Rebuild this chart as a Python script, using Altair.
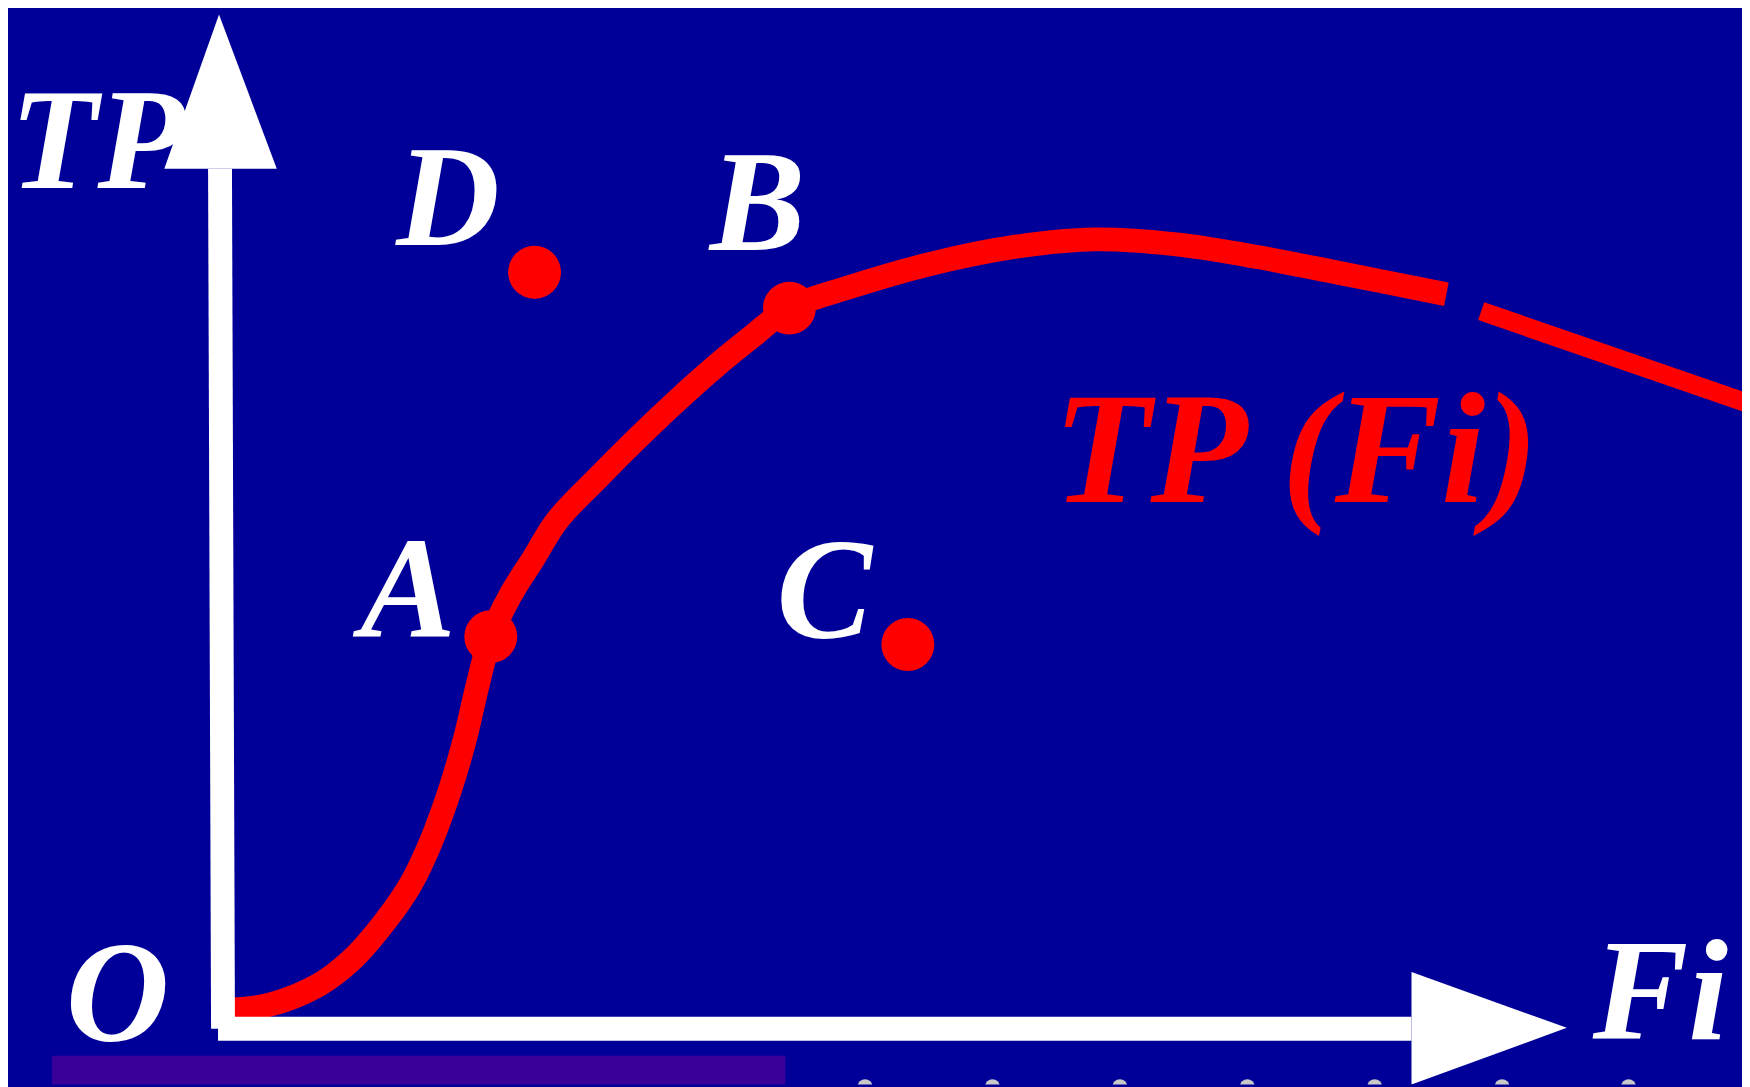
import altair as alt
import pandas as pd

# ---------------- data (arbitrary units: 1 unit = 100 px of the original slide) -------------
X_DOMAIN = [-2.16, 15.26]
Y_DOMAIN = [-0.56, 10.23]

# total product curve TP(Fi), main branch
curve_x = [0.00, 0.46, 0.96, 1.29, 1.63, 1.89, 2.09, 2.29, 2.43, 2.56, 2.69,
           2.89, 3.11, 3.36, 3.76, 4.16, 4.56, 4.93, 5.31, 5.69,
           6.26, 7.09, 7.92, 8.75, 9.58, 10.41, 11.23, 12.29]
curve_y = [0.19, 0.24, 0.44, 0.69, 1.08, 1.46, 1.88, 2.43, 2.91, 3.46, 3.94,
           4.36, 4.71, 5.11, 5.53, 5.93, 6.31, 6.64, 6.95, 7.24,
           7.44, 7.68, 7.85, 7.93, 7.88, 7.75, 7.59, 7.38]
# declining tail after the gap
tail_x = [12.64, 15.36]
tail_y = [7.21, 6.27]

# marked points
point_names = ["A", "B", "C", "D"]
point_x = [2.69, 5.69, 6.88, 3.13]
point_y = [3.94, 7.24, 3.86, 7.60]

# white labels
label_text = ["A", "B", "C", "D", "O", "TP", "Fi"]
label_x = [1.38, 4.89, 5.56, 1.74, -1.58, -2.14, 13.76]
label_y = [3.94, 7.82, 3.93, 7.87, -0.12, 8.45, -0.10]

# curve label
curve_label = ["TP (Fi)"]
curve_label_x = [8.34]
curve_label_y = [5.29]

# axes (shaft ends and arrow heads)
shaft_x1 = [-0.05, 0.00]
shaft_x2 = [11.94, -0.03]
shaft_y1 = [0.00, 0.00]
shaft_y2 = [0.00, 8.64]

yhead_y = [10.19, 8.64]
yhead_xl = [-0.04, -0.59]
yhead_xr = [-0.04, 0.54]

xhead_x = [11.94, 13.50]
xhead_yt = [0.57, 0.01]
xhead_yb = [-0.56, 0.01]

# footer decorations
band_x = [-1.72]
band_x2 = [5.65]
band_y = [-0.27]
band_y2 = [-0.62]
dots_x = [6.45, 7.73, 9.01, 10.29, 11.57, 12.85, 14.12]
dots_y = [-0.58] * 7

# ---------------- chart ----------------
BG = "#000099"
RED = "#ff0000"
WHITE = "#ffffff"
FONT = "Times New Roman, Liberation Serif, Times, serif"

xs = alt.Scale(domain=X_DOMAIN, zero=False, nice=False)
ys = alt.Scale(domain=Y_DOMAIN, zero=False, nice=False)


def X(f):
    return alt.X(f, type="quantitative", scale=xs, axis=None)


def Y(f):
    return alt.Y(f, type="quantitative", scale=ys, axis=None)


band = alt.Chart(pd.DataFrame({"x": band_x, "x2": band_x2, "y": band_y, "y2": band_y2})).mark_rect(
    color="#380098", clip=True
).encode(x=X("x"), x2="x2", y=Y("y"), y2="y2")

dots = alt.Chart(pd.DataFrame({"x": dots_x, "y": dots_y})).mark_circle(
    color="#c8c8c8", opacity=1, size=220, clip=True
).encode(x=X("x"), y=Y("y"))

curve = alt.Chart(pd.DataFrame({"x": curve_x, "y": curve_y})).mark_line(
    color=RED, strokeWidth=24, interpolate="catmull-rom", strokeCap="butt", strokeJoin="round"
).encode(x=X("x"), y=Y("y"))

tail = alt.Chart(pd.DataFrame({"x": tail_x, "y": tail_y})).mark_line(
    color=RED, strokeWidth=19, strokeCap="butt", clip=True
).encode(x=X("x"), y=Y("y"))

shafts = alt.Chart(pd.DataFrame({"x": shaft_x1, "x2": shaft_x2, "y": shaft_y1, "y2": shaft_y2})).mark_rule(
    color=WHITE, strokeWidth=24, strokeCap="butt"
).encode(x=X("x"), x2="x2", y=Y("y"), y2="y2")

yhead = alt.Chart(pd.DataFrame({"y": yhead_y, "xl": yhead_xl, "xr": yhead_xr})).mark_area(
    color=WHITE, orient="horizontal", opacity=1
).encode(y=Y("y"), x=X("xl"), x2="xr")

xhead = alt.Chart(pd.DataFrame({"x": xhead_x, "yt": xhead_yt, "yb": xhead_yb})).mark_area(
    color=WHITE, orient="vertical", opacity=1, clip=True
).encode(x=X("x"), y=Y("yt"), y2="yb")

points = alt.Chart(pd.DataFrame({"name": point_names, "x": point_x, "y": point_y})).mark_circle(
    color=RED, opacity=1, size=2827
).encode(x=X("x"), y=Y("y"))

labels = alt.Chart(pd.DataFrame({"t": label_text, "x": label_x, "y": label_y})).mark_text(
    align="left", baseline="alphabetic", font=FONT, fontSize=144,
    fontStyle="italic", fontWeight="bold", color=WHITE
).encode(x=X("x"), y=Y("y"), text="t:N")

clabel = alt.Chart(pd.DataFrame({"t": curve_label, "x": curve_label_x, "y": curve_label_y})).mark_text(
    align="left", baseline="alphabetic", font=FONT, fontSize=160,
    fontStyle="italic", fontWeight="bold", color=RED
).encode(x=X("x"), y=Y("y"), text="t:N")

chart = alt.layer(
    band, dots, curve, tail, shafts, yhead, xhead, points, labels, clabel
).properties(
    width=1742, height=1079, padding=0, background=BG,
    autosize=alt.AutoSizeParams(type="none"),
).configure_view(strokeWidth=0)

chart.save("out.html", embed_options={"renderer": "svg", "actions": False})
